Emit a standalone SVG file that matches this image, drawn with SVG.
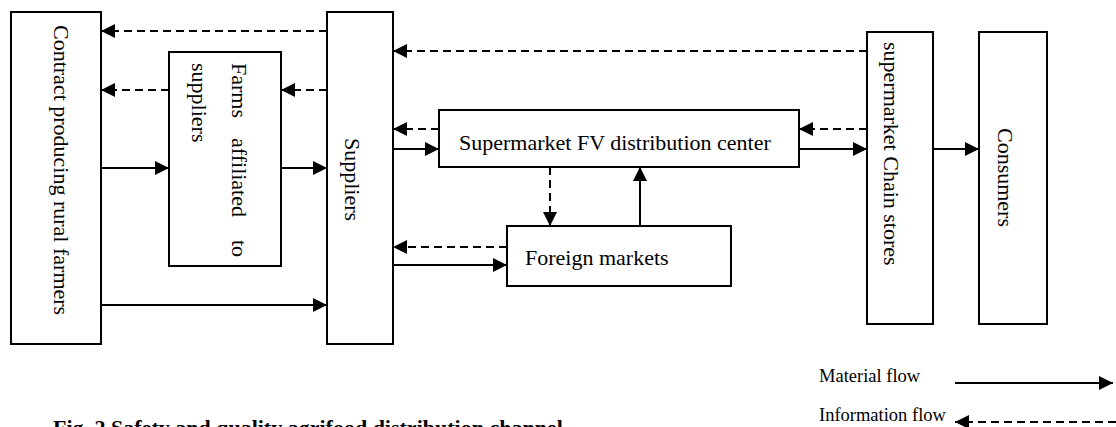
<svg xmlns="http://www.w3.org/2000/svg" width="1116" height="427" viewBox="0 0 1116 427">
<style>
.box{fill:#fff;stroke:#000;stroke-width:2}
.t{font-family:"Liberation Serif","Times New Roman",serif;font-size:22px;fill:#000}
.lg{font-family:"Liberation Serif","Times New Roman",serif;font-size:18.5px;fill:#000}
.cap{font-family:"Liberation Serif","Times New Roman",serif;font-size:22px;font-weight:bold;fill:#000}
.mat{stroke:#000;stroke-width:2;fill:none;marker-end:url(#ah)}
.inf{stroke:#000;stroke-width:2;fill:none;stroke-dasharray:8,5;marker-end:url(#ah)}
</style>
<defs>
<marker id="ah" markerUnits="userSpaceOnUse" markerWidth="15" markerHeight="14" refX="14" refY="7" orient="auto">
<path d="M0,0 L14,7 L0,14 Z" fill="#000" stroke="none"/>
</marker>
</defs>
<rect width="1116" height="427" fill="#fff"/>
<g id="contract-farmers">
<rect class="box" x="11" y="12" width="90" height="332"/>
<text class="t" transform="translate(54,0) rotate(90)" x="25">Contract producing rural farmers</text>
</g>
<g id="farms-affiliated">
<rect class="box" x="169" y="52" width="112" height="214"/>
<text class="t" transform="translate(232,0) rotate(90)"><tspan x="63">Farms</tspan><tspan x="138">affiliated</tspan><tspan x="240">to</tspan></text>
<text class="t" transform="translate(192,0) rotate(90)" x="63">suppliers</text>
</g>
<g id="suppliers">
<rect class="box" x="327" y="12" width="66" height="332"/>
<text class="t" transform="translate(345,0) rotate(90)" x="138">Suppliers</text>
</g>
<g id="distribution-center">
<rect class="box" x="439" y="110" width="360" height="57"/>
<text class="t" x="459" y="150">Supermarket FV distribution center</text>
</g>
<g id="foreign-markets">
<rect class="box" x="507" y="226" width="224" height="60"/>
<text class="t" x="525" y="265">Foreign markets</text>
</g>
<g id="chain-stores">
<rect class="box" x="867" y="32" width="66" height="292"/>
<text class="t" transform="translate(884,0) rotate(90)" x="42">supermarket Chain stores</text>
</g>
<g id="consumers">
<rect class="box" x="979" y="32" width="68" height="292"/>
<text class="t" transform="translate(998,0) rotate(90)" x="128">Consumers</text>
</g>
<g id="connectors">
<line class="inf" x1="327" y1="31" x2="101" y2="31"/>
<line class="inf" x1="169" y1="90" x2="101" y2="90"/>
<line class="inf" x1="327" y1="90" x2="281" y2="90"/>
<line class="inf" x1="867" y1="51" x2="393" y2="51"/>
<line class="inf" x1="439" y1="129" x2="393" y2="129"/>
<line class="inf" x1="867" y1="129" x2="799" y2="129"/>
<line class="inf" x1="550" y1="167" x2="550" y2="226"/>
<line class="inf" x1="507" y1="247" x2="393" y2="247"/>
<line class="mat" x1="101" y1="168" x2="169" y2="168"/>
<line class="mat" x1="281" y1="168" x2="327" y2="168"/>
<line class="mat" x1="101" y1="305" x2="327" y2="305"/>
<line class="mat" x1="393" y1="149" x2="439" y2="149"/>
<line class="mat" x1="799" y1="149" x2="867" y2="149"/>
<line class="mat" x1="933" y1="149" x2="979" y2="149"/>
<line class="mat" x1="640" y1="226" x2="640" y2="167"/>
<line class="mat" x1="393" y1="265" x2="507" y2="265"/>
</g>
<g id="legend">
<text class="lg" x="819" y="382">Material flow</text>
<line class="mat" x1="955" y1="383" x2="1113" y2="383"/>
<text class="lg" x="819" y="421">Information flow</text>
<line class="inf" x1="1116" y1="422" x2="955" y2="422"/>
</g>
<g id="caption">
<text class="cap" x="53" y="435">Fig. 2  Safety and quality agrifood distribution channel</text>
</g>
</svg>
